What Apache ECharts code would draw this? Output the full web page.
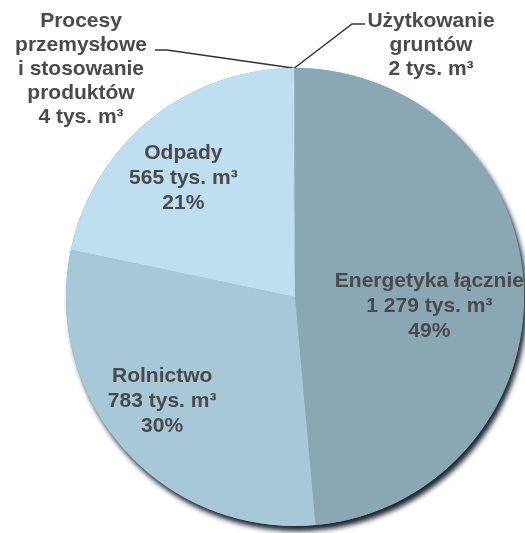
<!DOCTYPE html>
<html>
<head>
<meta charset="utf-8">
<script src="https://cdn.jsdelivr.net/npm/echarts@6/dist/echarts.min.js"></script>
<style>
  html, body { margin: 0; padding: 0; background: #fff; }
  #chart { width: 525px; height: 533px; }
</style>
</head>
<body>
<div id="chart"></div>
<script>
// kategorie i wartości (tys. m3)
const names = ['Energetyka łącznie', 'Rolnictwo', 'Odpady', 'Procesy\nprzemysłowe\ni stosowanie\nproduktów', 'Użytkowanie\ngruntów'];
const values = [1279, 783, 565, 4, 2];
const valueLabels = ['1 279', '783', '565', '4', '2'];
const percentLabels = ['49%', '30%', '21%', '', ''];
const colors = ['#8aa7b4', '#a7c8d6', '#bddff0', '#c4e3f1', '#9bb6c2'];

// przesunięcia etykiet wewnętrznych
const insideOffsets = [[17, 14], [-45, 26], [-37, -28]];

const total = values.reduce((a, b) => a + b, 0);
const center = [295, 297];
const radius = 229;

const chart = echarts.init(document.getElementById('chart'));

const textBase = {
  fontFamily: '"Liberation Sans", Arial, sans-serif',
  fontWeight: 'bold',
  fontSize: 21,
  color: '#4a4a4a',
  align: 'center'
};

const data = values.map((v, i) => {
  const big = i < 3;
  const item = {
    name: names[i],
    value: v,
    itemStyle: { color: colors[i] }
  };
  if (big) {
    item.label = Object.assign({}, textBase, {
      position: 'inside',
      lineHeight: 25,
      offset: insideOffsets[i],
      formatter: names[i] + '\n' + valueLabels[i] + ' tys. m³\n' + percentLabels[i]
    });
    item.labelLine = { show: false };
  } else {
    item.label = Object.assign({}, textBase, {
      position: 'outside',
      lineHeight: 24,
      formatter: names[i] + '\n' + valueLabels[i] + ' tys. m³'
    });
    item.labelLine = { show: true, lineStyle: { color: '#333', width: 1.5 } };
  }
  return item;
});

// pozycje etykiet zewnętrznych
const outsideLabels = {
  3: { x: 81, y: 69, end: [[167, 50], [155, 50]] },
  4: { x: 431, y: 45, end: [[352, 24], [365, 24]] }
};

chart.setOption({
  animation: false,
  series: [
    {
      // cień pod całym kołem
      type: 'pie',
      center: center,
      radius: [0, radius],
      silent: true,
      z: 1,
      label: { show: false },
      labelLine: { show: false },
      itemStyle: {
        color: '#8aa7b4',
        shadowBlur: 5,
        shadowColor: 'rgba(15,30,40,0.95)',
        shadowOffsetX: 3,
        shadowOffsetY: 5
      },
      data: [{ name: 'suma', value: total }]
    },
    {
      type: 'pie',
      center: center,
      radius: [0, radius],
      startAngle: 90,
      clockwise: true,
      z: 2,
      avoidLabelOverlap: false,
      percentPrecision: 0,
      itemStyle: { borderWidth: 0 },
      emphasis: { disabled: true },
      data: data,
      labelLayout: function (params) {
        const o = outsideLabels[params.dataIndex];
        if (!o) return {};
        const start = params.labelLinePoints ? params.labelLinePoints[0] : [center[0], center[1] - radius];
        return {
          x: o.x,
          y: o.y,
          align: 'center',
          verticalAlign: 'middle',
          labelLinePoints: [start, o.end[0], o.end[1]]
        };
      }
    }
  ]
});
</script>
</body>
</html>
